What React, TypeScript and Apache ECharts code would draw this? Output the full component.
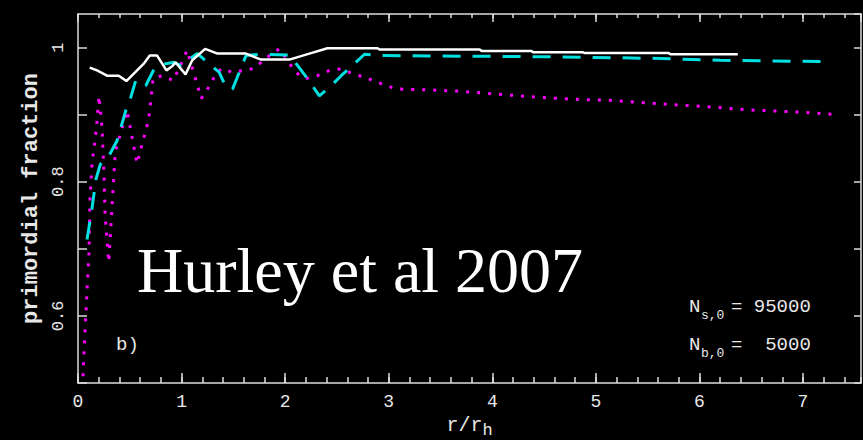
import React, { useEffect, useRef } from 'react';
import * as echarts from 'echarts';

// ---- axis ranges & labels ----
const X_MIN = 0;
const X_MAX = 7.56;
const Y_MIN = 0.5;
const Y_MAX = 1.05;
const yLabelTicks = [0.6, 0.8, 1.0];
const xAxisTitle = ['r/r', 'h'];
const yAxisTitle = 'primordial fraction';

// ---- annotations ----
const headline = 'Hurley et al 2007';
const panelTag = 'b)';
const nSubs = ['s,0', 'b,0'];
const nValues = ['95000', ' 5000'];

// ---- series (r/r_h, primordial fraction) ----
const whiteSolid: [number, number][] = [
  [0.113, 0.970], [0.184, 0.966], [0.28, 0.958], [0.394, 0.958], [0.467, 0.950],
  [0.551, 0.963], [0.635, 0.976], [0.693, 0.988], [0.764, 0.988], [0.854, 0.966],
  [0.909, 0.972], [0.941, 0.978], [1.038, 0.960], [1.103, 0.981], [1.228, 0.998],
  [1.347, 0.991], [1.622, 0.991], [1.767, 0.982], [2.041, 0.982], [2.234, 0.991],
  [2.408, 0.999], [2.892, 0.999], [2.911, 0.997], [3.878, 0.997], [3.897, 0.995],
  [4.381, 0.995], [4.391, 0.993], [4.87, 0.993], [4.89, 0.992], [5.70, 0.992],
  [5.72, 0.990], [6.37, 0.990],
];

const cyanDashed: [number, number][] = [
  [0.087, 0.714], [0.135, 0.760], [0.174, 0.804], [0.216, 0.826], [0.300, 0.839],
  [0.377, 0.861], [0.461, 0.906], [0.510, 0.926], [0.558, 0.951], [0.654, 0.943],
  [0.735, 0.968], [0.848, 0.976], [0.928, 0.978], [0.993, 0.973], [1.122, 0.988],
  [1.154, 0.991], [1.250, 0.978], [1.364, 0.963], [1.428, 0.941], [1.492, 0.938],
  [1.557, 0.963], [1.622, 0.988], [1.750, 0.990], [2.041, 0.989], [2.121, 0.973],
  [2.218, 0.953], [2.331, 0.928], [2.444, 0.943], [2.541, 0.958], [2.669, 0.976],
  [2.766, 0.990], [2.911, 0.988], [3.878, 0.987], [4.652, 0.986], [5.522, 0.984],
  [6.199, 0.981], [7.282, 0.979],
];

const magentaDotted: [number, number][] = [
  [0.048, 0.510], [0.068, 0.578], [0.087, 0.637], [0.106, 0.693], [0.116, 0.776],
  [0.135, 0.827], [0.164, 0.861], [0.184, 0.891], [0.203, 0.928], [0.232, 0.880],
  [0.250, 0.815], [0.262, 0.750], [0.297, 0.680], [0.360, 0.845], [0.474, 0.906],
  [0.570, 0.827], [0.684, 0.894], [0.725, 0.954], [0.810, 0.958], [0.920, 0.951],
  [1.006, 0.979], [1.054, 0.996], [1.190, 0.924], [1.283, 0.946], [1.330, 0.961],
  [1.390, 0.969], [1.490, 0.963], [1.610, 0.966], [1.700, 0.969], [1.870, 0.991],
  [1.944, 0.998], [2.010, 0.984], [2.070, 0.970], [2.140, 0.958], [2.210, 0.954],
  [2.310, 0.958], [2.430, 0.966], [2.520, 0.968], [2.620, 0.963], [2.720, 0.958],
  [2.830, 0.952], [2.930, 0.946], [3.040, 0.940], [3.130, 0.938], [3.360, 0.937],
  [3.690, 0.935], [4.000, 0.931], [4.440, 0.926], [4.770, 0.923], [5.180, 0.921],
  [5.620, 0.916], [6.050, 0.912], [6.490, 0.907], [6.930, 0.904], [7.350, 0.900],
];

const FRAME = '#dcdcdc';
const TXT = '#e8e8e8';
const MONO = '"Liberation Mono", "DejaVu Sans Mono", monospace';
const SERIF = '"Liberation Serif", "DejaVu Serif", serif';

export default function App() {
  const ref = useRef<HTMLDivElement>(null);

  useEffect(() => {
    document.body.style.margin = '0';
    document.body.style.background = '#000';
    if (!ref.current) return;
    const chart = echarts.init(ref.current, null, { renderer: 'svg' });

    const xBase = {
      type: 'value' as const,
      min: X_MIN,
      max: X_MAX,
      splitLine: { show: false },
      axisLine: { show: false, onZero: false },
      axisLabel: { show: false },
    };
    const yBase = {
      type: 'value' as const,
      min: Y_MIN,
      max: Y_MAX,
      interval: 0.1,
      splitLine: { show: false },
      axisLine: { show: true, onZero: false, lineStyle: { color: FRAME, width: 1.5 } },
    };

    const labelY = (v: number) => {
      const r = Math.round(v * 10);
      const hit = yLabelTicks.some((t) => Math.round(t * 10) === r);
      if (!hit) return '';
      return r === 10 ? '1' : (r / 10).toFixed(1);
    };

    const nGraphics: any[] = [];
    nSubs.forEach((sub, i) => {
      const cy = 307 + i * 38;
      nGraphics.push(
        { type: 'text', left: 689, top: cy - 10, style: { text: 'N', fill: TXT, font: `19px ${MONO}` } },
        { type: 'text', left: 701, top: cy + 2, style: { text: sub, fill: TXT, font: `13px ${MONO}` } },
        { type: 'text', left: 731, top: cy - 10, style: { text: '= ' + nValues[i], fill: TXT, font: `19px ${MONO}` } },
      );
    });

    chart.setOption({
      animation: false,
      backgroundColor: '#000',
      grid: { left: 78, right: 2, top: 14, bottom: 57, containLabel: false, outerBoundsMode: 'none' },
      xAxis: [
        {
          ...xBase,
          position: 'bottom',
          interval: 1,
          axisLine: { show: true, onZero: false, lineStyle: { color: FRAME, width: 1.5 } },
          axisTick: { show: true, inside: true, length: 10, lineStyle: { color: FRAME, width: 1.5 } },
          axisLabel: {
            show: true, color: TXT, fontFamily: MONO, fontSize: 18, margin: 10,
            showMaxLabel: false, formatter: (v: number) => String(Math.round(v)),
          },
          name: `{a|${xAxisTitle[0]}}{b|${xAxisTitle[1]}}`,
          nameLocation: 'middle',
          nameGap: 32,
          nameTextStyle: {
            rich: {
              a: { fontFamily: MONO, fontSize: 20, color: TXT, lineHeight: 23, verticalAlign: 'top' },
              b: { fontFamily: MONO, fontSize: 17, color: TXT, lineHeight: 23, verticalAlign: 'bottom' },
            },
          },
        },
        {
          ...xBase,
          position: 'bottom',
          interval: 0.2,
          axisTick: { show: true, inside: true, length: 6, lineStyle: { color: FRAME, width: 1.5 } },
        },
        {
          ...xBase,
          position: 'top',
          interval: 1,
          axisLine: { show: true, onZero: false, lineStyle: { color: FRAME, width: 1.5 } },
          axisTick: { show: true, inside: true, length: 8, lineStyle: { color: FRAME, width: 1.5 } },
        },
        {
          ...xBase,
          position: 'top',
          interval: 0.2,
          axisTick: { show: true, inside: true, length: 4, lineStyle: { color: FRAME, width: 1.5 } },
        },
      ],
      yAxis: [
        {
          ...yBase,
          position: 'left',
          axisTick: { show: true, inside: true, length: 9, lineStyle: { color: FRAME, width: 1.5 } },
          axisLabel: {
            show: true, color: TXT, fontFamily: MONO, fontSize: 17, rotate: 90, margin: 11,
            showMaxLabel: false, formatter: labelY,
          },
          name: yAxisTitle,
          nameLocation: 'middle',
          nameGap: 36,
          nameTextStyle: { color: TXT, fontFamily: MONO, fontSize: 22, fontWeight: 'bold' },
        },
        {
          ...yBase,
          position: 'right',
          axisTick: { show: true, inside: true, length: 7, lineStyle: { color: FRAME, width: 1.5 } },
          axisLabel: { show: false },
        },
      ],
      series: [
        {
          type: 'line', xAxisIndex: 0, yAxisIndex: 0, data: whiteSolid, showSymbol: false,
          lineStyle: { color: '#ffffff', width: 2.5, type: 'solid' }, z: 3,
        },
        {
          type: 'line', xAxisIndex: 0, yAxisIndex: 0, data: cyanDashed, showSymbol: false,
          lineStyle: { color: '#00e0e0', width: 3, type: [18, 12] }, z: 2,
        },
        {
          type: 'line', xAxisIndex: 0, yAxisIndex: 0, data: magentaDotted, showSymbol: false,
          lineStyle: { color: '#ff00ff', width: 3, type: [3, 8] }, z: 1,
        },
      ],
      graphic: [
        {
          type: 'text', left: 137, top: 238,
          style: { text: headline, fill: '#ffffff', font: `64px ${SERIF}` },
        },
        {
          type: 'text', left: 116, top: 335,
          style: { text: panelTag, fill: TXT, font: `19px ${MONO}` },
        },
        ...nGraphics,
      ],
    });

    return () => chart.dispose();
  }, []);

  return (
    <div
      ref={ref}
      style={{ position: 'fixed', left: 0, top: 0, width: 863, height: 440, background: '#000' }}
    />
  );
}
